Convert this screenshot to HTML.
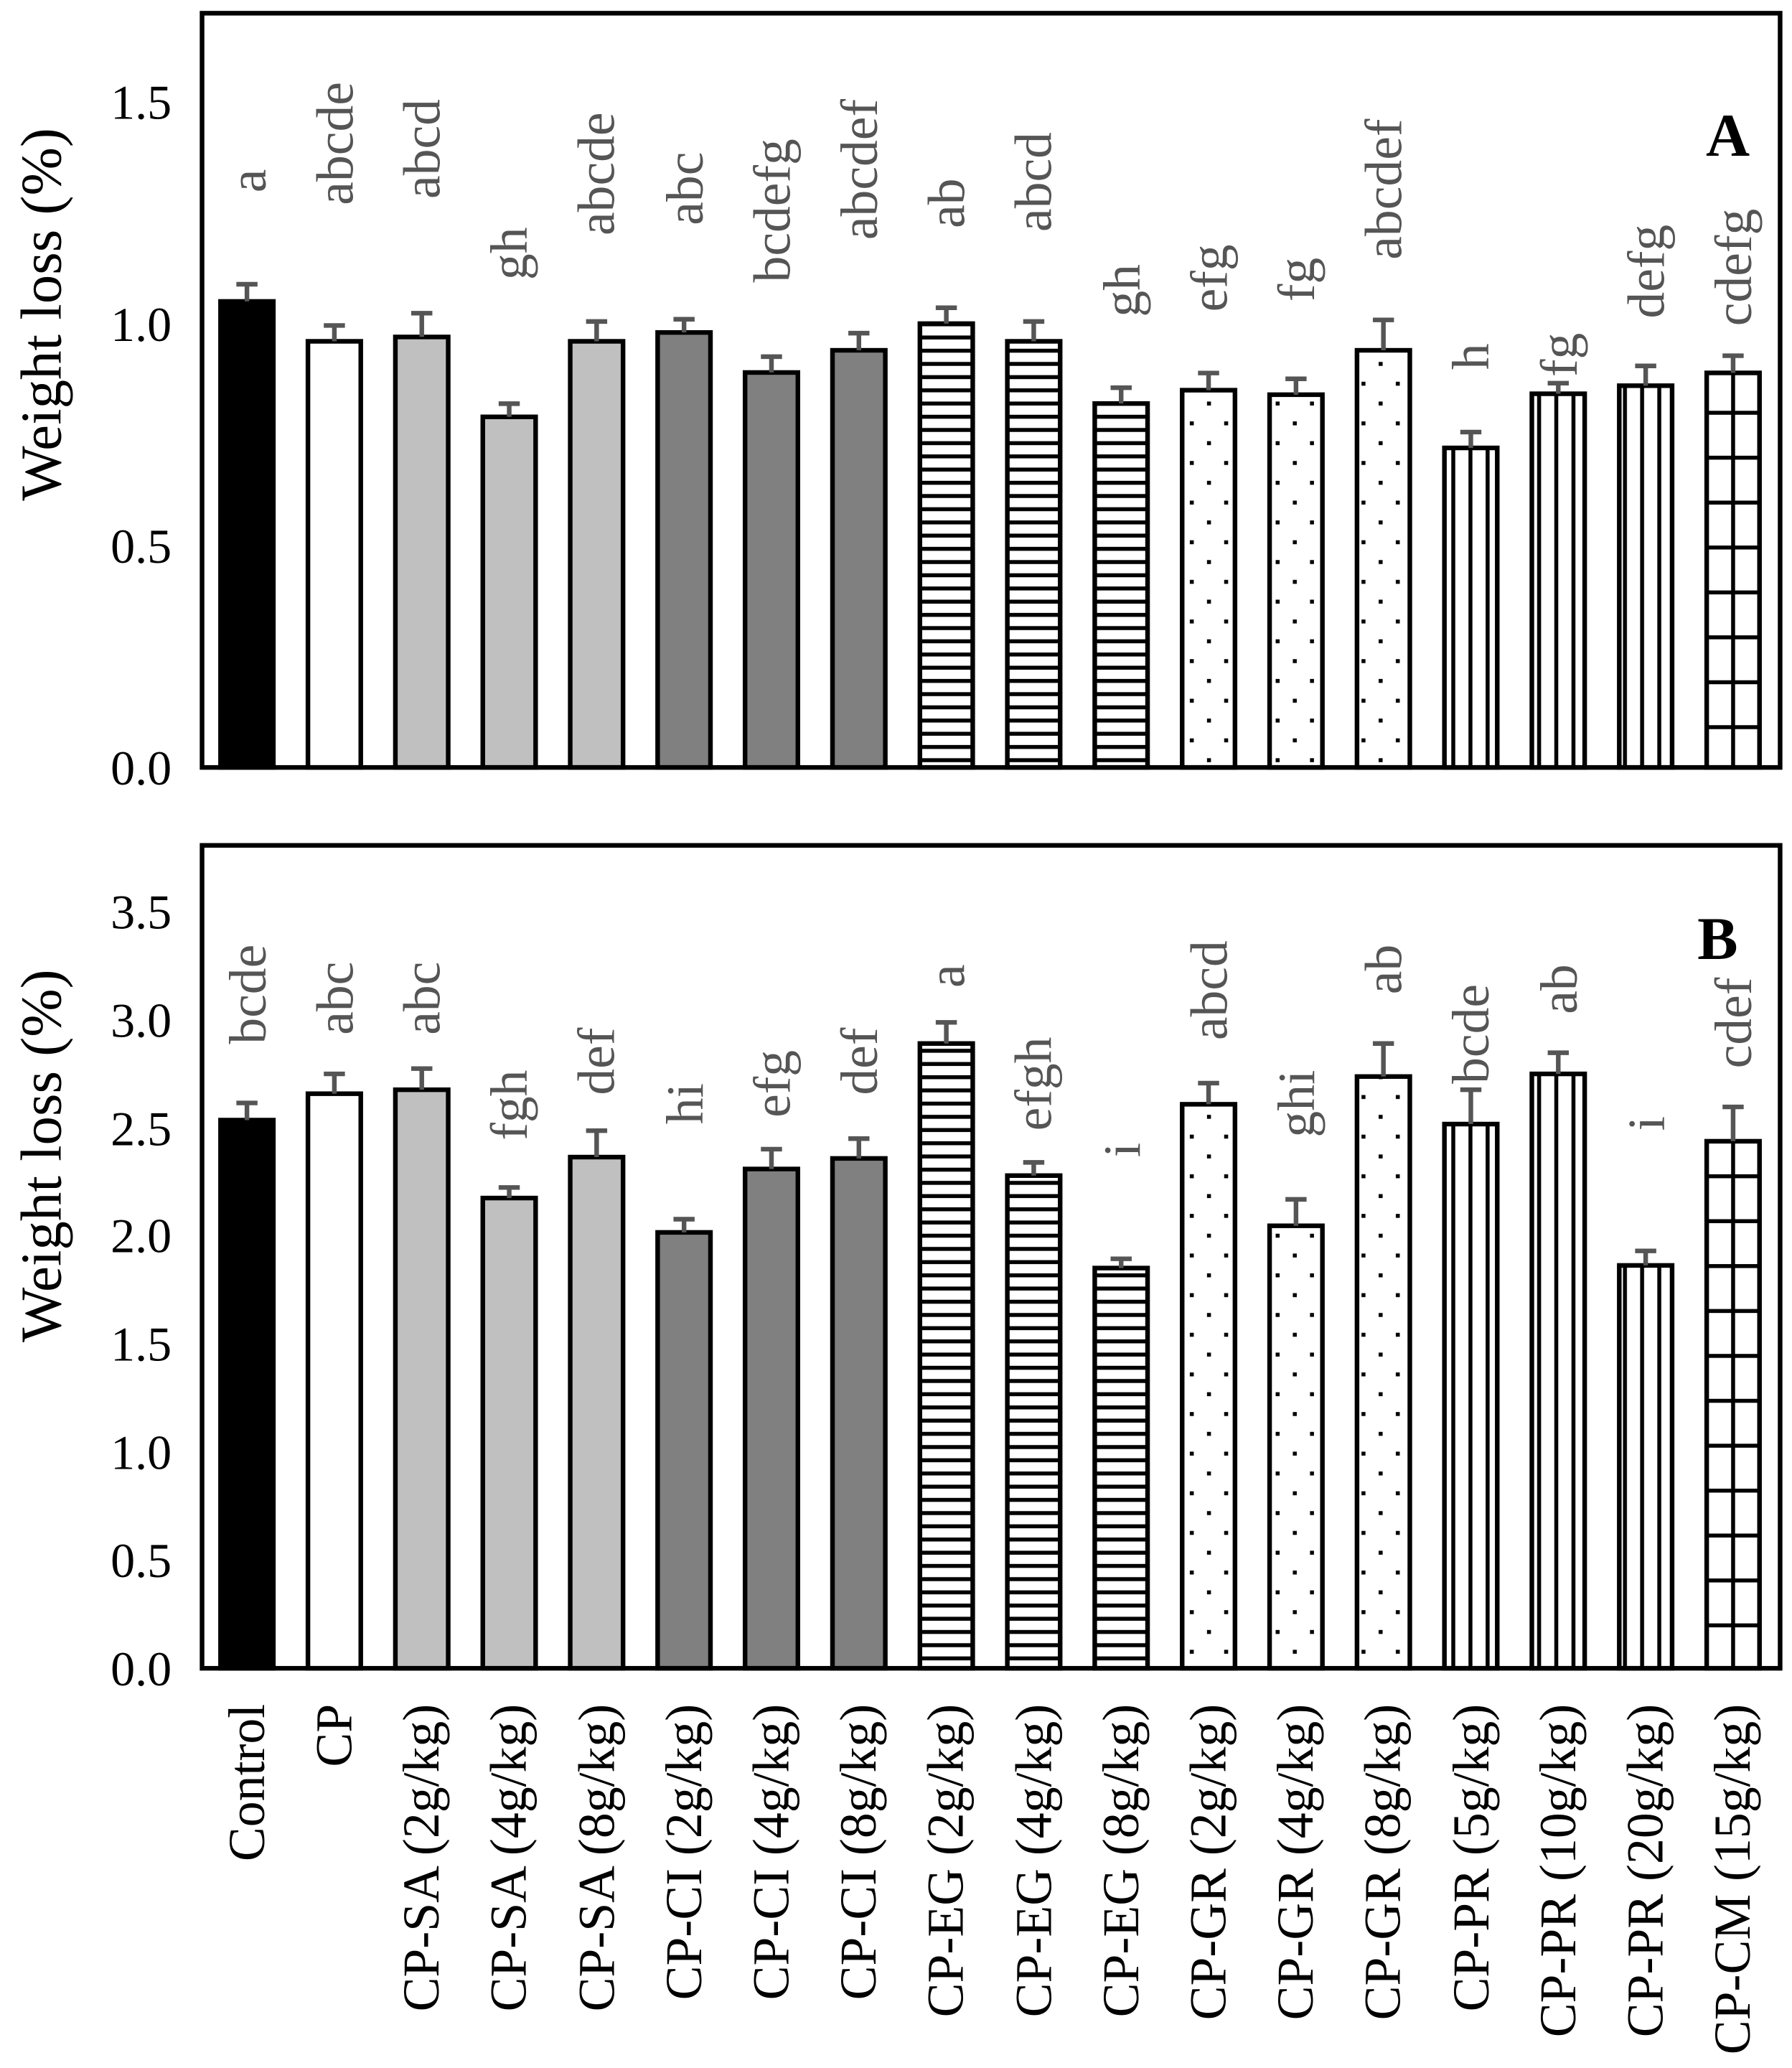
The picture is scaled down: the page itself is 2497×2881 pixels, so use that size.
<!DOCTYPE html>
<html><head><meta charset="utf-8"><style>html,body{margin:0;padding:0;background:#fff}svg{display:block}</style></head>
<body>
<svg width="2497" height="2881" viewBox="0 0 1357 1565.6" preserveAspectRatio="none" xmlns="http://www.w3.org/2000/svg" font-family="Liberation Serif, serif">
<defs>
<pattern id="hz" patternUnits="userSpaceOnUse" width="20" height="10"><rect width="20" height="10" fill="#fff"/><rect y="4" width="20" height="3" fill="#000"/></pattern>
<pattern id="vt" patternUnits="userSpaceOnUse" width="13" height="20" x="2"><rect width="13" height="20" fill="#fff"/><rect x="5" width="3" height="20" fill="#000"/></pattern>
<pattern id="dt" patternUnits="userSpaceOnUse" width="26" height="30"><rect width="26" height="30" fill="#fff"/><rect x="4" y="4" width="3" height="3" fill="#000"/><rect x="17" y="19" width="3" height="3" fill="#000"/></pattern>
<pattern id="gr" patternUnits="userSpaceOnUse" width="40" height="34" x="12.4" y="5"><rect width="40" height="34" fill="#fff"/><rect x="18.5" width="3" height="34" fill="#000"/><rect y="0" width="40" height="3" fill="#000"/></pattern>
</defs>
<rect width="1357" height="1566" fill="#fff"/>

<g stroke="#000" stroke-width="3.5">
<rect x="167" y="228.2" width="40" height="352.8" fill="#000"/>
<rect x="233.2" y="258.4" width="40" height="322.6" fill="#fff"/>
<rect x="299.4" y="255.1" width="40" height="325.9" fill="#c0c0c0"/>
<rect x="365.6" y="315.6" width="40" height="265.4" fill="#c0c0c0"/>
<rect x="431.8" y="258.4" width="40" height="322.6" fill="#c0c0c0"/>
<rect x="498" y="251.7" width="40" height="329.3" fill="#808080"/>
<rect x="564.2" y="282" width="40" height="299" fill="#808080"/>
<rect x="630.4" y="265.2" width="40" height="315.8" fill="#808080"/>
<rect x="696.6" y="245" width="40" height="336" fill="url(#hz)"/>
<rect x="762.8" y="258.4" width="40" height="322.6" fill="url(#hz)"/>
<rect x="829" y="305.5" width="40" height="275.5" fill="url(#hz)"/>
<rect x="895.2" y="295.4" width="40" height="285.6" fill="url(#dt)"/>
<rect x="961.4" y="298.8" width="40" height="282.2" fill="url(#dt)"/>
<rect x="1027.6" y="265.2" width="40" height="315.8" fill="url(#dt)"/>
<rect x="1093.8" y="339.1" width="40" height="241.9" fill="url(#vt)"/>
<rect x="1160" y="298.1" width="40" height="282.9" fill="url(#vt)"/>
<rect x="1226.2" y="292" width="40" height="289" fill="url(#vt)"/>
<rect x="1292.4" y="282.3" width="40" height="298.7" fill="url(#gr)"/>
</g>
<g stroke="#555" stroke-width="3.5" fill="none">
<path d="M187 228.2V215.2M179 215.2H195"/>
<path d="M253.2 258.4V246.4M245.2 246.4H261.2"/>
<path d="M319.4 255.1V237.1M311.4 237.1H327.4"/>
<path d="M385.6 315.6V305.6M377.6 305.6H393.6"/>
<path d="M451.8 258.4V243.4M443.8 243.4H459.8"/>
<path d="M518 251.7V241.7M510 241.7H526"/>
<path d="M584.2 282V270M576.2 270H592.2"/>
<path d="M650.4 265.2V252.2M642.4 252.2H658.4"/>
<path d="M716.6 245V233M708.6 233H724.6"/>
<path d="M782.8 258.4V243.4M774.8 243.4H790.8"/>
<path d="M849 305.5V293.5M841 293.5H857"/>
<path d="M915.2 295.4V282.4M907.2 282.4H923.2"/>
<path d="M981.4 298.8V286.8M973.4 286.8H989.4"/>
<path d="M1047.6 265.2V242.2M1039.6 242.2H1055.6"/>
<path d="M1113.8 339.1V327.1M1105.8 327.1H1121.8"/>
<path d="M1180 298.1V290.1M1172 290.1H1188"/>
<path d="M1246.2 292V277M1238.2 277H1254.2"/>
<path d="M1312.4 282.3V269.3M1304.4 269.3H1320.4"/>
</g>
<g fill="#555" font-size="40" text-anchor="end">
<text transform="translate(201,128) rotate(-90)">a</text>
<text transform="translate(267,62) rotate(-90)">abcde</text>
<text transform="translate(333,75) rotate(-90)">abcd</text>
<text transform="translate(399,172) rotate(-90)">gh</text>
<text transform="translate(465,85) rotate(-90)">abcde</text>
<text transform="translate(532,115) rotate(-90)">abc</text>
<text transform="translate(598,105) rotate(-90)">bcdefg</text>
<text transform="translate(664,75) rotate(-90)">abcdef</text>
<text transform="translate(730,135) rotate(-90)">ab</text>
<text transform="translate(796,100) rotate(-90)">abcd</text>
<text transform="translate(863,200) rotate(-90)">gh</text>
<text transform="translate(929,185) rotate(-90)">efg</text>
<text transform="translate(995,195) rotate(-90)">fg</text>
<text transform="translate(1061,90) rotate(-90)">abcdef</text>
<text transform="translate(1127,260) rotate(-90)">h</text>
<text transform="translate(1194,252) rotate(-90)">fg</text>
<text transform="translate(1260,170) rotate(-90)">defg</text>
<text transform="translate(1326,158) rotate(-90)">cdefg</text>
</g>
<rect x="153" y="10" width="1195" height="571" fill="none" stroke="#000" stroke-width="3.5"/>
<g font-size="37" text-anchor="end" fill="#000">
<text x="130" y="594">0.0</text><text x="130" y="426">0.5</text><text x="130" y="258">1.0</text><text x="130" y="90">1.5</text>
</g>
<text transform="translate(46,238) rotate(-90)" font-size="44" text-anchor="middle">Weight loss (%)</text>
<text x="1325" y="118" font-size="46" font-weight="bold" text-anchor="end">A</text>

<g stroke="#000" stroke-width="3.5">
<rect x="167" y="848" width="40" height="415" fill="#000"/>
<rect x="233.2" y="828" width="40" height="435" fill="#fff"/>
<rect x="299.4" y="825" width="40" height="438" fill="#c0c0c0"/>
<rect x="365.6" y="907" width="40" height="356" fill="#c0c0c0"/>
<rect x="431.8" y="876" width="40" height="387" fill="#c0c0c0"/>
<rect x="498" y="933" width="40" height="330" fill="#808080"/>
<rect x="564.2" y="885" width="40" height="378" fill="#808080"/>
<rect x="630.4" y="877" width="40" height="386" fill="#808080"/>
<rect x="696.6" y="790" width="40" height="473" fill="url(#hz)"/>
<rect x="762.8" y="890" width="40" height="373" fill="url(#hz)"/>
<rect x="829" y="960" width="40" height="303" fill="url(#hz)"/>
<rect x="895.2" y="836" width="40" height="427" fill="url(#dt)"/>
<rect x="961.4" y="928" width="40" height="335" fill="url(#dt)"/>
<rect x="1027.6" y="815" width="40" height="448" fill="url(#dt)"/>
<rect x="1093.8" y="851" width="40" height="412" fill="url(#vt)"/>
<rect x="1160" y="813" width="40" height="450" fill="url(#vt)"/>
<rect x="1226.2" y="958" width="40" height="305" fill="url(#vt)"/>
<rect x="1292.4" y="864" width="40" height="399" fill="url(#gr)"/>
</g>
<g stroke="#555" stroke-width="3.5" fill="none">
<path d="M187 848V835M179 835H195"/>
<path d="M253.2 828V813M245.2 813H261.2"/>
<path d="M319.4 825V809M311.4 809H327.4"/>
<path d="M385.6 907V899M377.6 899H393.6"/>
<path d="M451.8 876V856M443.8 856H459.8"/>
<path d="M518 933V923M510 923H526"/>
<path d="M584.2 885V870M576.2 870H592.2"/>
<path d="M650.4 877V862M642.4 862H658.4"/>
<path d="M716.6 790V774M708.6 774H724.6"/>
<path d="M782.8 890V880M774.8 880H790.8"/>
<path d="M849 960V953M841 953H857"/>
<path d="M915.2 836V820M907.2 820H923.2"/>
<path d="M981.4 928V908M973.4 908H989.4"/>
<path d="M1047.6 815V790M1039.6 790H1055.6"/>
<path d="M1113.8 851V825M1105.8 825H1121.8"/>
<path d="M1180 813V797M1172 797H1188"/>
<path d="M1246.2 958V947M1238.2 947H1254.2"/>
<path d="M1312.4 864V838M1304.4 838H1320.4"/>
</g>
<g fill="#555" font-size="40" text-anchor="end">
<text transform="translate(201,715) rotate(-90)">bcde</text>
<text transform="translate(267,728) rotate(-90)">abc</text>
<text transform="translate(333,728) rotate(-90)">abc</text>
<text transform="translate(399,810) rotate(-90)">fgh</text>
<text transform="translate(465,778) rotate(-90)">def</text>
<text transform="translate(532,820) rotate(-90)">hi</text>
<text transform="translate(598,795) rotate(-90)">efg</text>
<text transform="translate(664,778) rotate(-90)">def</text>
<text transform="translate(730,730) rotate(-90)">a</text>
<text transform="translate(796,785) rotate(-90)">efgh</text>
<text transform="translate(863,865) rotate(-90)">i</text>
<text transform="translate(929,712) rotate(-90)">abcd</text>
<text transform="translate(995,810) rotate(-90)">ghi</text>
<text transform="translate(1061,715) rotate(-90)">ab</text>
<text transform="translate(1127,745) rotate(-90)">bcde</text>
<text transform="translate(1194,730) rotate(-90)">ab</text>
<text transform="translate(1260,845) rotate(-90)">i</text>
<text transform="translate(1326,740) rotate(-90)">cdef</text>
</g>
<rect x="153" y="640" width="1195" height="623" fill="none" stroke="#000" stroke-width="3.5"/>
<g font-size="37" text-anchor="end" fill="#000">
<text x="130" y="1276">0.0</text><text x="130" y="1194">0.5</text><text x="130" y="1112">1.0</text><text x="130" y="1030">1.5</text>
<text x="130" y="948">2.0</text><text x="130" y="867">2.5</text><text x="130" y="785">3.0</text><text x="130" y="703">3.5</text>
</g>
<text transform="translate(46,875) rotate(-90)" font-size="44" text-anchor="middle">Weight loss (%)</text>
<text x="1316" y="726" font-size="46" font-weight="bold" text-anchor="end">B</text>

<g font-size="39" text-anchor="end" fill="#000">
<text transform="translate(200,1290) rotate(-90)">Control</text>
<text transform="translate(266,1290) rotate(-90)">CP</text>
<text transform="translate(332,1290) rotate(-90)">CP-SA (2g/kg)</text>
<text transform="translate(398,1290) rotate(-90)">CP-SA (4g/kg)</text>
<text transform="translate(465,1290) rotate(-90)">CP-SA (8g/kg)</text>
<text transform="translate(531,1290) rotate(-90)">CP-CI (2g/kg)</text>
<text transform="translate(597,1290) rotate(-90)">CP-CI (4g/kg)</text>
<text transform="translate(663,1290) rotate(-90)">CP-CI (8g/kg)</text>
<text transform="translate(729,1290) rotate(-90)">CP-EG (2g/kg)</text>
<text transform="translate(796,1290) rotate(-90)">CP-EG (4g/kg)</text>
<text transform="translate(862,1290) rotate(-90)">CP-EG (8g/kg)</text>
<text transform="translate(928,1290) rotate(-90)">CP-GR (2g/kg)</text>
<text transform="translate(994,1290) rotate(-90)">CP-GR (4g/kg)</text>
<text transform="translate(1060,1290) rotate(-90)">CP-GR (8g/kg)</text>
<text transform="translate(1127,1290) rotate(-90)">CP-PR (5g/kg)</text>
<text transform="translate(1193,1290) rotate(-90)">CP-PR (10g/kg)</text>
<text transform="translate(1259,1290) rotate(-90)">CP-PR (20g/kg)</text>
<text transform="translate(1325,1290) rotate(-90)">CP-CM (15g/kg)</text>
</g>
</svg>
</body></html>
